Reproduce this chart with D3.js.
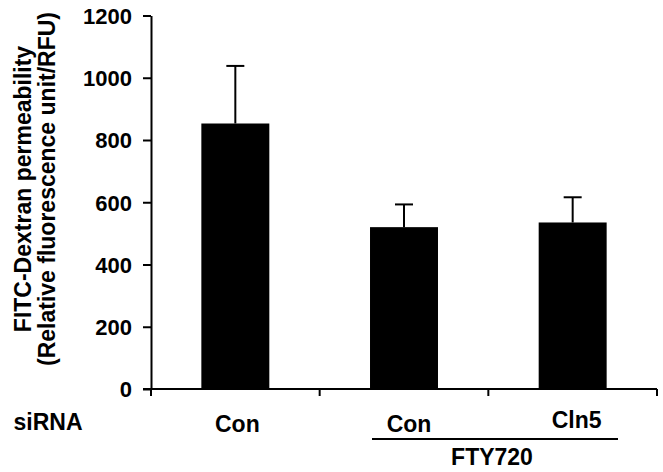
<!DOCTYPE html>
<html><head><meta charset="utf-8">
<script src="https://cdn.jsdelivr.net/npm/d3@7"></script>
<style>body{margin:0;background:#fff}svg{display:block}text{font-family:"Liberation Sans",Arial,sans-serif;font-weight:bold;fill:#000}</style>
</head><body>
<script>
const categories = ["Con", "FTY Con", "FTY Cln5"];
const siRNALabels = ["Con", "Con", "Cln5"];
const values = [853, 520, 535];
const errors = [185, 73, 81];
const yTicks = [0, 200, 400, 600, 800, 1000, 1200];

const W = 663, H = 472;
const svg = d3.select("body").append("svg").attr("width", W).attr("height", H);

const x = d3.scaleBand().domain(categories).range([151, 657]).paddingInner(0.597).paddingOuter(0.2985);
const y = d3.scaleLinear().domain([0, 1200]).range([389, 15.5]);

// y axis
const yAxis = d3.axisLeft(y).tickValues(yTicks).tickSize(8).tickSizeOuter(0).tickFormat(d3.format("d"));
const gy = svg.append("g").attr("transform", "translate(151,0)").call(yAxis);
gy.select(".domain").attr("stroke", "#000").attr("stroke-width", 2);
gy.selectAll(".tick line").attr("stroke", "#000").attr("stroke-width", 2);
gy.selectAll(".tick text").attr("x", -19).attr("dy", "0.36em").style("font-size", "22px").style("font-family", "Liberation Sans, Arial, sans-serif").style("font-weight", "bold");

// bars
svg.selectAll("rect.bar").data(values).join("rect").attr("class", "bar")
  .attr("x", (d, i) => x(categories[i])).attr("width", x.bandwidth())
  .attr("y", d => y(d)).attr("height", d => y(0) - y(d)).attr("fill", "#000");

// error bars
const eb = svg.append("g").attr("stroke", "#000").attr("stroke-width", 2);
values.forEach((v, i) => {
  const cx = x(categories[i]) + x.bandwidth() / 2;
  eb.append("line").attr("x1", cx).attr("x2", cx).attr("y1", y(v)).attr("y2", y(v + errors[i]));
  eb.append("line").attr("x1", cx - 9).attr("x2", cx + 9).attr("y1", y(v + errors[i])).attr("y2", y(v + errors[i]));
});

// x axis baseline with boundary ticks
const bounds = [151, 151 + x.step(), 151 + 2 * x.step(), 657];
svg.append("line").attr("x1", 143).attr("x2", 657).attr("y1", y(0)).attr("y2", y(0)).attr("stroke", "#000").attr("stroke-width", 2);
bounds.forEach(b => {
  svg.append("line").attr("x1", b).attr("x2", b).attr("y1", y(0)).attr("y2", y(0) + 7).attr("stroke", "#000").attr("stroke-width", 2);
});

// category labels
svg.append("text").attr("x", 48).attr("y", 430).attr("text-anchor", "middle").style("font-size", "23px").text("siRNA");
siRNALabels.forEach((t, i) => {
  const cx = x(categories[i]) + x.bandwidth() / 2;
  svg.append("text").attr("x", cx + (i === 0 ? 2 : i === 1 ? 5 : 4)).attr("y", i === 2 ? 428 : 432).attr("text-anchor", "middle").style("font-size", "23px").text(t);
});
svg.append("line").attr("x1", 372).attr("x2", 618).attr("y1", 439).attr("y2", 439).attr("stroke", "#000").attr("stroke-width", 2);
svg.append("text").attr("x", 492).attr("y", 465).attr("text-anchor", "middle").style("font-size", "23px").text("FTY720");

// y title
const yt = svg.append("text").attr("transform", "translate(0,189) rotate(-90)").attr("text-anchor", "middle").style("font-size", "23px");
yt.append("tspan").attr("x", 0).attr("y", 31).text("FITC-Dextran permeability");
yt.append("tspan").attr("x", 0).attr("y", 55).text("(Relative fluorescence unit/RFU)");
</script>
</body></html>
